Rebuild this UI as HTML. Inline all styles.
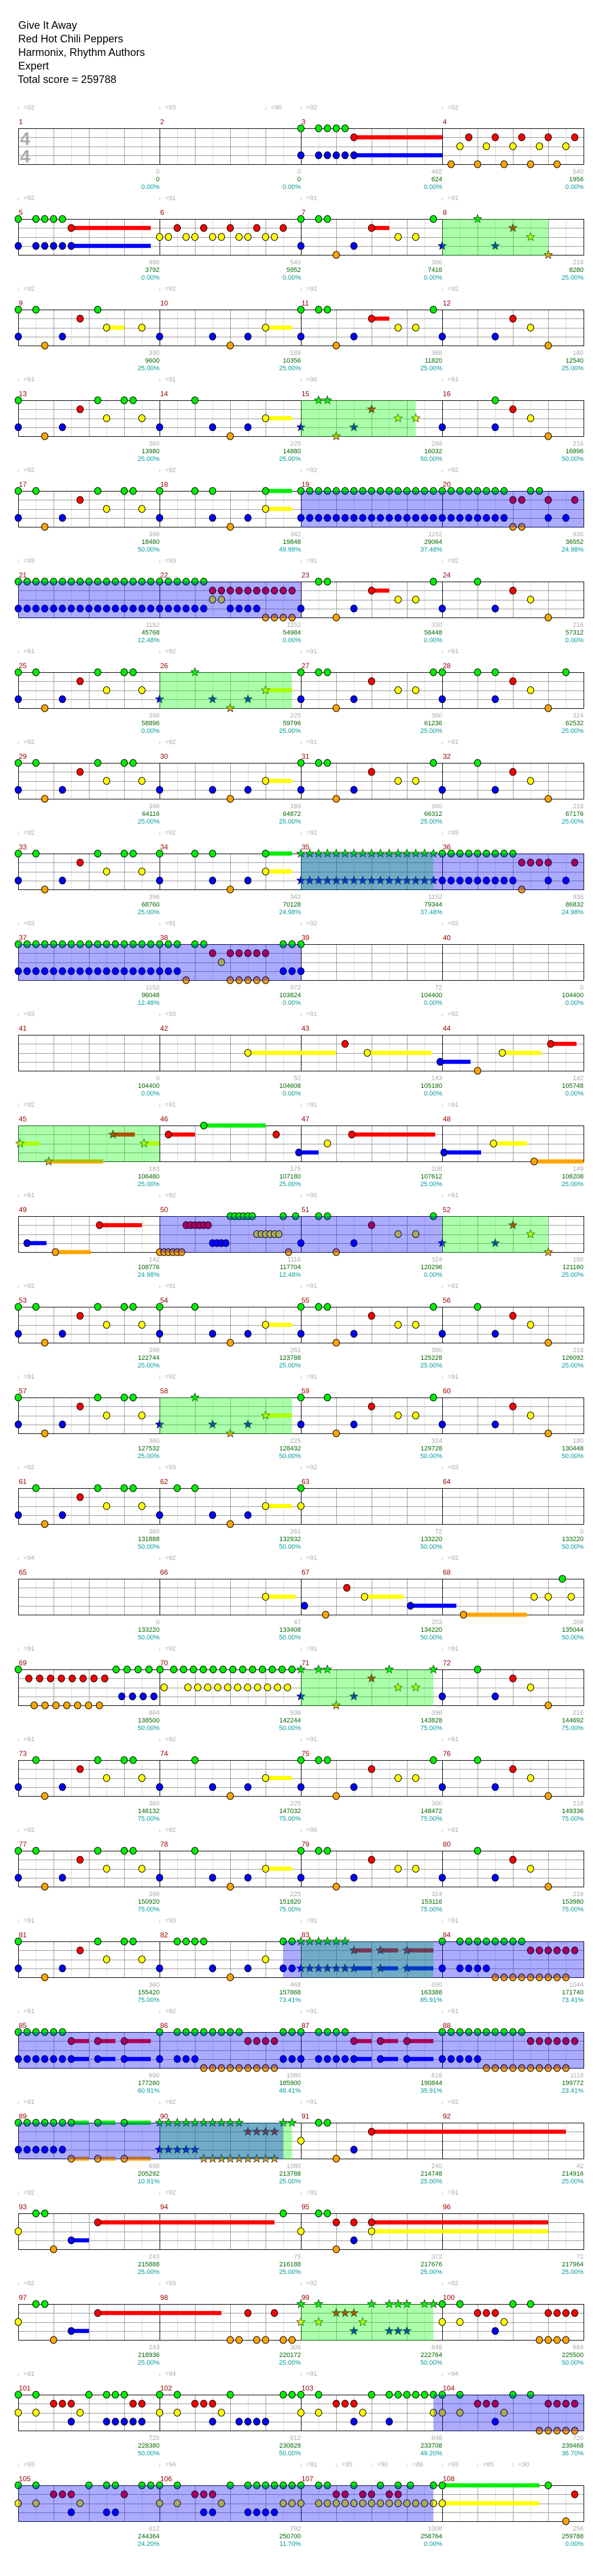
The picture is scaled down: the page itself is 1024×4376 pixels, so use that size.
<!DOCTYPE html>
<html><head><meta charset="utf-8">
<style>
html,body{margin:0;padding:0;background:#fff;}
svg{display:block;}
text{font-family:"Liberation Sans","DejaVu Sans",sans-serif;}
</style></head>
<body>
<svg id="s" xmlns="http://www.w3.org/2000/svg" width="1024" height="4376" viewBox="0 0 1024 4376">
<rect width="1024" height="4376" fill="#fff"/>
<g font-size="18" fill="#000">
<text x="31" y="49">Give It Away</text>
<text x="31" y="72">Red Hot Chili Peppers</text>
<text x="31" y="95">Harmonix, Rhythm Authors</text>
<text x="31" y="118">Expert</text>
<text x="30" y="141">Total score = 259788</text>
</g>
</svg>
<script>
(function(){
var P={
A9:"G0 B0 G.5 O.75 B1.25 R1.75 G2.25 Y2.5~3 Y3.5",
P13:"G0 B0 O.75 B1.25 R1.75 G2.25 Y2.5 G3 G3.25 Y3.5",
P17:"G0 B0 G.5 O.75 B1.25 R1.75 G2.25 Y2.5 G3 G3.25 Y3.5",
P61:"G.5 B0 O.75 B1.25 R1.75 G2.25 Y2.5 G3 G3.25 Y3.5",
P10:"B0 B1.5 O2 B2.5 Y3~3.75",
P14:"B0 G1 B1.5 O2 B2.5 Y3~3.75",
P54:"G0 B0 G1 B1.5 O2 B2.5 Y3~3.75",
P18:"G0 B0 G1 G1.5 B1.5 O2 B2.5 G3~3.75 Y3~3.75",
P11:"G0 B0 G.5 G.75 O1 B1.5 R2 Y2.75 Y3.25 G3.75",
P11s:"G0 B0 G.5 G.75 O1 B1.5 R2~2.5 Y2.75 Y3.25 G3.75",
P12:"B0 B1.5 R2 Y2.5 O3",
P24:"B0 G1 B1.5 R2 Y2.5 O3",
SP26:"B0* G1* B1.5* O2* B2.5* Y3~3.75*",
SP8:"B0* G1* B1.5* R2* Y2.5* O3*",
SP15:"B0* G.5* G.75* O1* B1.5* R2* Y2.75* Y3.25*"
};
var rows=[
{m:["","","G0 B0 G.5-1.25/.25 B.5-1.5/.25 R1.5~4 B1.5~4","R.75-3.75/.75 Y.5-3.5/.75 O.25-3.25/.75"],t:[[0,92],[4,93],[7,90],[8,92],[12,92]],l:["0/0/0.00%","0/0/0.00%","492/624/0.00%","540/1956/0.00%"]},
{m:["G0 B0 G.5-1.25/.25 B.5-1.5/.25 R1.5~3.75 B1.5~3.75","Y0 Y.25 Y.75 Y1 Y1.5 Y1.75 Y2.25 Y2.5 Y3 Y3.25 R.5-3.5/.75","P11s","SP8"],g:[[12,15]],t:[92,91,91,91],l:["486/3792/0.00%","540/5952/0.00%","366/7416/0.00%","216/8280/25.00%"]},
{m:["A9","P10","P11s","P12"],t:[92,92,92,92],l:["330/9600/25.00%","189/10356/25.00%","366/11820/25.00%","180/12540/25.00%"]},
{m:["P13","P14","SP15","B0 G1.5 B1.5 R2 Y2.5 O3"],g:[[8,11.25]],t:[91,91,90,91],l:["360/13980/25.00%","225/14880/25.00%","288/16032/50.00%","216/16896/50.00%"]},
{m:["P17","P18","",""],x:"G8-13.75/.25 B8-13.75/.25 R14 R14.25 O14 O14.25 G14.5 G14.75 R15 B15 B15.5 R15.75",p:[[8,16]],t:[92,92,92,92],l:["396/18480/50.00%","342/19848/49.98%","1152/29064/37.48%","936/36552/24.98%"]},
{m:["","","B0 G.5 G.75 O1 B1.5 R2~2.5 Y2.75 Y3.25 G3.75","P24"],x:"G0-5.25/.25 B0-5.25/.25 R5.5-7.75/.25 Y5.5 Y5.75 B6-6.75/.25 O7-7.75/.25",p:[[0,8]],t:[93,93,91,92],l:["1152/45768/12.48%","1152/54984/0.00%","330/56448/0.00%","216/57312/0.00%"]},
{m:["P17","SP26","P11","G0 B0 G1 G1.5 B1.5 R2 Y2.5 O3 G3.5"],g:[[4,7.75]],t:[91,92,91,91],l:["396/58896/0.00%","225/59796/25.00%","360/61236/25.00%","324/62532/25.00%"]},
{m:["P17","P10","P11","P24"],t:[92,92,91,91],l:["396/64116/25.00%","189/64872/25.00%","360/66312/25.00%","216/67176/25.00%"]},
{m:["P17","P18","",""],x:"G8-11.75/.25* B8-11.75/.25* G12-14/.25 B12-14/.25 R14.25-15/.25 O14.25 B15 B15.5 R15.75",g:[[8,11.75]],p:[[8,16]],t:[92,92,92,93],l:["396/68760/25.00%","342/70128/24.98%","1152/79344/37.48%","936/86832/24.98%"]},
{m:["","","",""],x:"G0-4.5/.25 B0-4.5/.25 O4.75 G5 G5.25 R5.5 Y5.75 R6-7/.25 O6-7/.25 G7.5 G7.75 G8 B7.5 B7.75 B8",p:[[0,8]],t:[93,91,92,93],l:["1152/96048/12.48%","972/103824/0.00%","72/104400/0.00%","0/104400/0.00%"]},
{m:["","","",""],x:"Y6.5~9 R9.25 Y9.88~11.7 B11.94~12.8 O13 Y13.7~14.8 R15.07~15.8",t:[93,93,91,92],l:["0/104400/0.00%","52/104608/0.00%","143/105180/0.00%","142/105748/0.00%"]},
{m:["","","",""],x:"Y.05~.6* O.86~2.4* R2.68~3.3* Y3.56~4* R4.25~5 G5.25~7 R7.3 B7.94~8.5 Y8.75 R9.44~11.8 B12.05~13.1 Y13.45~14.4 O14.6~16",g:[[0,4]],t:[92,91,91,91],l:["183/106480/25.00%","175/107180/25.00%","108/107612/25.00%","149/108208/25.00%"]},
{m:["","","",""],x:"B.25~.8 O1.05~2.05 R2.3~3.5 O4-4.625/.125 R4.75-5.375/.125 B5.5-5.875/.125 G6-6.625/.125 Y6.75-7.375/.125 O7.65 G7.5 G7.85 B8 G8.5 G8.75 O9 B9.5 R10 Y10.75 Y11.25 G11.75 B12* B13.5* R14* Y14.5* O15*",p:[[4,12]],g:[[12,15]],t:[91,92,90,91],l:["142/108776/24.98%","1116/117704/12.48%","324/120296/0.00%","180/121160/25.00%"]},
{m:["P17","P54","P11","P24"],t:[92,91,91,91],l:["396/122744/25.00%","261/123788/25.00%","360/125228/25.00%","216/126092/25.00%"]},
{m:["P13","SP26","G0 B0 G.75 O1 B1.5 R2 Y2.75 Y3.25 G3.75","P12"],g:[[4,7.75]],t:[91,92,91,91],l:["360/127532/25.00%","225/128432/50.00%","324/129728/50.00%","180/130448/50.00%"]},
{m:["P61","B0 G.5 G1 B1.5 O2 B2.5 Y3~3.75","G0 Y0",""],t:[92,93,92,93],l:["360/131888/50.00%","261/132932/50.00%","72/133220/50.00%","0/133220/50.00%"]},
{m:["","","",""],x:"Y7~7.85 B8.1 O8.7 R9.3 Y9.8~10.9 B11.1~12.4 O12.6~14.4 Y14.6 Y15 G15.4 Y15.65",t:[94,92,91,92],l:["0/133220/50.00%","47/133408/50.00%","203/134220/50.00%","206/135044/50.00%"]},
{m:["","","",""],x:"G0 R.3-2.45/.307 O.45-2.3/.308 G2.77-4.05/.31 B2.93-3.84/.303 Y4.13 G4.4-7.75/.279 Y4.8-7.62/.282 B8* G8* G8.5* G8.75* O9* B9.5* R10* G10.5* Y10.75* Y11.25* G11.75* G13 B12 B13.5 R14 Y14.5 O15",g:[[8,11.75]],t:[91,92,91,91],l:["864/138500/50.00%","936/142244/50.00%","396/143828/75.00%","216/144692/75.00%"]},
{m:["P61","P14","P11","P24"],t:[91,92,91,91],l:["360/146132/75.00%","225/147032/75.00%","360/148472/75.00%","216/149336/75.00%"]},
{m:["P17","P14","G0 B0 G.5 G.75 O1 B1.5 R2 Y2.75 Y3.25","P24"],t:[92,92,90,91],l:["396/150920/75.00%","225/151820/75.00%","324/153116/75.00%","216/153980/75.00%"]},
{m:["P13","","",""],x:"B4 G4.5-5.25/.25 B5.5 O6 B6.5 Y7 G7.5 G7.75 B7.5 B7.75 G8-9.25/.25* B8-9.25/.25* B9.5~10* R9.5~10* R10.25~10.75* B10.25~10.75* R11~11.75* B11~11.75* G12 B12 G12.5-14.25/.25 B12.5-13.25/.25 R14.5-15.75/.25 O13.5-15.5/.25",p:[[7.5,16]],g:[[8,11.75]],t:[91,93,91,91],l:["360/155420/75.00%","468/157868/73.41%","690/163388/85.91%","1044/171740/73.41%"]},
{m:["","","",""],x:"G0-1.25/.25 B0-1.25/.25 R1.5~2 B1.5~2 R2.25~2.75 B2.25~2.75 R3~3.75 B3~3.75 G4 B4 G4.5-6.25/.25 B4.5-5/.25 R6.5-7.25/.25 O5.25-7.25/.25 G7.5-8/.25 B7.5-8/.25 G8.5-9.25/.25 B8.5-9.25/.25 R9.5~10 B9.5~10 R10.25~10.75 B10.25~10.75 R11~11.75 B11~11.75 G12-14.25/.25 B12-13/.25 R14.5-15.75/.25 O13.25-15.5/.25",p:[[0,16]],t:[91,92,91,91],l:["690/177260/60.91%","1080/185900/48.41%","618/190844/35.91%","1116/199772/23.41%"]},
{m:["","","",""],x:"G0-1.25/.25 B0-1.25/.25 G1.5~2 O1.5~2 G2.25~2.75 O2.25~2.75 G3~3.75 O3~3.75 G4-6.25/.25* B4-5/.25* R6.5-7.25/.25* O5.25-7.25/.25* G7.5* G7.75* Y8 G8.5 G8.75 O9 B9.5 R10~15.5",p:[[0,7.5]],g:[[4,7.75]],t:[91,92,91,92],l:["690/205292/10.91%","1080/213788/25.00%","240/214748/25.00%","42/214916/25.00%"]},
{m:["","","",""],x:"G.5 G.75 Y0 O1 B1.5~2 R2.25~7.25 G7.5 Y8 G8.5 G8.75 R9 O9 B9.5 R9.5 R10~15 Y10~15",t:[92,92,91,91],l:["243/215888/25.00%","75/216188/25.00%","372/217676/25.00%","72/217964/25.00%"]},
{m:["","","",""],x:"G.5 G.75 Y0 O1 B1.5~2 R2.25~5.75 O6 O6.25 O6.75 O7 O7.5 O7.75 R6.5 R7.25 G8* G8.5* Y8* Y8.5* R9* R9.25* R9.5* B9.5* Y9.75* G10* G10.5* G10.75* G11* B10.5* B10.75* B11* G11.5* G11.75* G12 Y12 G12.5 Y12.5 R13 R13.25 R13.5 Y13.75 B13.5 G14 G14.5 R15-15.75/.25 O14.75-15.5/.25",g:[[8,11.75]],t:[92,93,92,92],l:["243/218936/25.00%","309/220172/25.00%","648/222764/50.00%","684/225500/50.00%"]},
{m:["","","",""],x:"G0 Y0 G.5 Y.5 R1-1.5/.25 B1.5 Y1.75 G2 G2.5-3/.25 B2.5-3.5/.25 R3.25 R3.5 G4 Y4 G4.5 Y4.5 R5-5.5/.25 B5.5 Y5.75 G6 B6.25-7/.25 G7.5-8/.25 Y8 G8.5 Y8.5 R9-9.5/.25 B9.5 Y9.75 G10 B10.5 G10.5-11.75/.25 Y11.75 G12 Y12 G12.5 Y12.5 R13-13.5/.25 B13.5 Y13.75 G14 G14.5 R15-15.75/.25 O14.75-15.75/.25",p:[[11.75,16]],t:[91,94,91,94],l:["720/228380/50.00%","612/230828/50.00%","648/233708/49.20%","720/239468/36.70%"]},
{m:["","","",""],x:"G0 Y0 G.5 Y.5 R1-1.5/.25 B1.5 Y1.75 G2 G2.5 G2.75 B2.5 B2.75 R3 G3.5 G3.75 G4 Y4 G4.5 Y4.5 R5-5.5/.25 B5.25 B5.5 Y5.75 G6 G6.5-8/.25 B6.5-7.25/.25 Y7.5 Y7.75 Y8 G8.5 G8.75 Y8.5-11.75/.25 R9 R9.25 R9.75 R10 R10.5 R10.75 G9.5 G10.25 G10.75 G11.1 G11.75 G12~14.75 Y12~14.75 G15 R15.75 O15.5",p:[[0,11.75]],t:[[0,93],[4,94],[8,91],[9,95],[10,90],[11,86],[12,93],[13,85],[14,90]],l:["612/244364/24.20%","792/250700/11.70%","1008/258764/0.00%","256/259788/0.00%"]}
];
var COL={G:"#00ee00",R:"#ff0000",Y:"#ffff00",B:"#0000ff",O:"#ffa500"};
var LANE={G:0,R:1,Y:2,B:3,O:4};
var re=/^([GRYBO])([\d.]+)(?:-([\d.]+)\/([\d.]+))?(?:~([\d.]+))?(\*)?$/;
function parse(str,off,out){
  if(!str)return; if(P[str])str=P[str];
  str.split(/\s+/).forEach(function(t){
    if(!t)return; var m=re.exec(t); if(!m)return;
    var a=parseFloat(m[2]);
    var e=m[5]?parseFloat(m[5])+off:null, st=!!m[6];
    if(m[3]){var b=parseFloat(m[3]),s=parseFloat(m[4]);
      for(var n=0;;n++){var x=a+n*s;if(x>b+0.02)break;out.push({l:m[1],b:x+off,e:null,s:st});}
    } else out.push({l:m[1],b:a+off,e:e,s:st});
  });
}
var h=[];
function X(b){return 31+60*b;}
function star(cx,cy,R,r){var p=[];for(var i=0;i<10;i++){var a=-Math.PI/2+i*Math.PI/5,rr=i%2?r:R;p.push((cx+rr*Math.cos(a)).toFixed(1)+","+(cy+rr*Math.sin(a)).toFixed(1));}return p.join(" ");}
rows.forEach(function(row,ri){
  var T=218+154*ri, B=T+61, LY=function(l){return T+15.25*l;};
  // tempo
  var tl=row.t; if(typeof tl[0]=="number")tl=tl.map(function(v,i){return[i*4,v];});
  tl.forEach(function(q){h.push('<text x="'+(X(q[0])-2)+'" y="'+(T-32)+'" font-size="11" fill="#aaa">\u2669=<tspan>'+q[1]+'</tspan></text>');});
  // measure numbers
  for(var i=0;i<4;i++){h.push('<text x="'+(X(i*4)+1)+'" y="'+(T-7)+'" font-size="12" fill="#990000">'+(ri*4+i+1)+'</text>');}
  // grid
  for(var k=1;k<32;k++){if(k%2==1){var x=X(k/2)+.5;h.push('<line x1="'+x+'" y1="'+T+'" x2="'+x+'" y2="'+B+'" stroke="#dddddd"/>');}}
  for(var k=1;k<16;k++){if(k%4){var x=X(k)+.5;h.push('<line x1="'+x+'" y1="'+T+'" x2="'+x+'" y2="'+B+'" stroke="#999"/>');}}
  for(var k=1;k<4;k++){var y=Math.round(LY(k))+.5;h.push('<line x1="31" y1="'+y+'" x2="991" y2="'+y+'" stroke="#999"/>');}
  for(var k=1;k<4;k++){var x=X(k*4)+.5;h.push('<line x1="'+x+'" y1="'+T+'" x2="'+x+'" y2="'+B+'" stroke="#000"/>');}
  h.push('<rect x="31.5" y="'+(T+.5)+'" width="960" height="61" fill="none" stroke="#000"/>');
  if(ri==0){h.push('<text x="34" y="246" font-size="31" fill="#aaa" font-weight="bold">4</text><text x="34" y="276" font-size="31" fill="#aaa" font-weight="bold">4</text>');}
  // notes
  var notes=[];
  row.m.forEach(function(s,mi){parse(s,mi*4,notes);});
  parse(row.x,0,notes);
  notes.forEach(function(n){if(n.e!=null){var y=LY(LANE[n.l]);h.push('<rect x="'+X(n.b)+'" y="'+(y-3.5)+'" width="'+(X(n.e)-X(n.b))+'" height="7" fill="'+COL[n.l]+'"/>');}});
  notes.forEach(function(n){var cx=X(n.b),cy=LY(LANE[n.l]);
    if(n.s)h.push('<polygon points="'+star(cx,cy,7.5,3.2)+'" fill="'+COL[n.l]+'" stroke="#222" stroke-width="0.8"/>');
    else h.push('<ellipse cx="'+cx+'" cy="'+cy+'" rx="5.5" ry="6" fill="'+COL[n.l]+'" stroke="#000" stroke-width="1"/>');});
  // regions
  (row.g||[]).forEach(function(r){h.push('<rect x="'+X(r[0])+'" y="'+T+'" width="'+(X(r[1])-X(r[0]))+'" height="62" fill="rgb(0,255,0)" fill-opacity="0.33"/>');});
  (row.p||[]).forEach(function(r){h.push('<rect x="'+X(r[0])+'" y="'+T+'" width="'+(X(r[1])-X(r[0]))+'" height="62" fill="rgb(0,0,255)" fill-opacity="0.33"/>');});
  // labels
  row.l.forEach(function(s,mi){var p=s.split("/"),x=X((mi+1)*4);
    h.push('<text x="'+x+'" y="'+(T+77)+'" font-size="11" fill="#aaa" text-anchor="end">'+p[0]+'</text>');
    h.push('<text x="'+x+'" y="'+(T+90)+'" font-size="11" fill="#006600" text-anchor="end">'+p[1]+'</text>');
    h.push('<text x="'+x+'" y="'+(T+103)+'" font-size="11" fill="#009999" text-anchor="end">'+p[2]+'</text>');});
});
document.getElementById("s").insertAdjacentHTML("beforeend",h.join(""));
})();
</script>
</body></html>
